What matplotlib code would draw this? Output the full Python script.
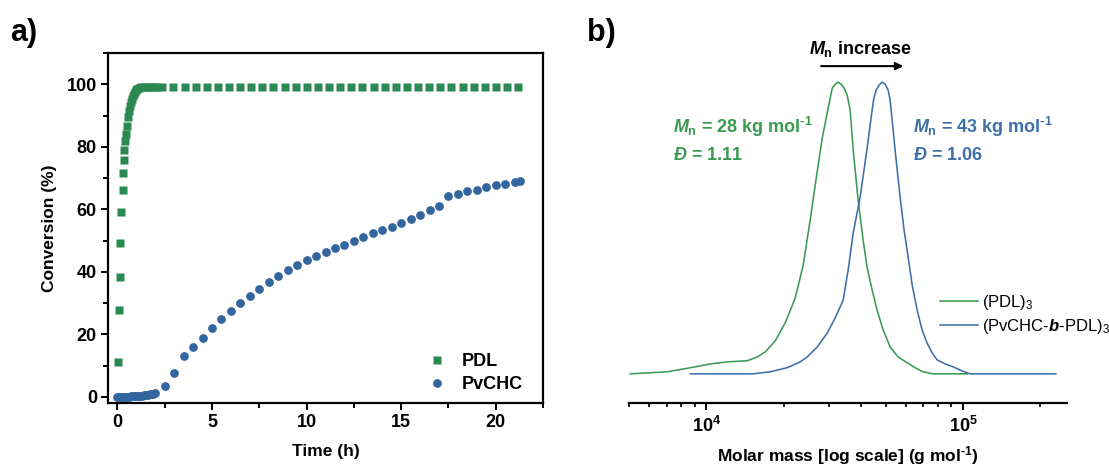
import numpy as np
import matplotlib
matplotlib.use("Agg")
import matplotlib.pyplot as plt
from matplotlib.ticker import MultipleLocator, LogLocator, NullFormatter

plt.rcParams['font.family'] = ['Liberation Sans', 'DejaVu Sans']
plt.rcParams['mathtext.fontset'] = 'custom'
plt.rcParams['mathtext.rm'] = 'Liberation Sans:bold'
plt.rcParams['mathtext.sf'] = 'Liberation Sans'
plt.rcParams['mathtext.it'] = 'Liberation Sans:italic:bold'
plt.rcParams['mathtext.bf'] = 'Liberation Sans:bold'

GREEN = '#2a8850'
BLUE = '#33659f'
GREEN_LINE = '#3a9a52'
BLUE_LINE = '#3d6fa8'

# conversion kinetics (h, %)
pdl_time = [0.02, 0.07, 0.11, 0.12, 0.20, 0.27, 0.28, 0.33, 0.37, 0.42, 0.46, 0.50,
            0.55, 0.60, 0.65, 0.70, 0.75, 0.80, 0.86, 0.92, 0.98, 1.05, 1.15, 1.25,
            1.38, 1.52, 1.66, 1.80, 1.95, 2.10,
            2.37, 2.96, 3.55, 4.13, 4.72, 5.31, 5.90, 6.49, 7.07, 7.66, 8.25, 8.84,
            9.43, 10.01, 10.60, 11.19, 11.78, 12.37, 12.95, 13.54, 14.13, 14.72,
            15.31, 15.89, 16.48, 17.07, 17.66, 18.25, 18.83, 19.42, 20.01, 20.60, 21.19]
pdl_conv = [11.0, 27.9, 38.4, 49.2, 59.0, 66.2, 71.6, 75.9, 79.1, 81.7, 84.0, 86.5,
            89.5, 91.5, 93.0, 94.3, 95.3, 96.2, 97.0, 97.6, 98.1, 98.5, 98.8, 99.0,
            99.0, 99.0, 99.0, 99.0, 99.0, 99.0,
            99.0, 99.0, 99.0, 99.0, 99.0, 99.0, 99.0, 99.0, 99.0, 99.0, 99.0, 99.0,
            99.0, 99.0, 99.0, 99.0, 99.0, 99.0, 99.0, 99.0, 99.0, 99.0,
            99.0, 99.0, 99.0, 99.0, 99.0, 99.0, 99.0, 99.0, 99.0, 99.0, 99.0]

pvchc_time = [0.0, 0.1, 0.2, 0.3, 0.4, 0.5, 0.6, 0.7, 0.8, 0.9, 1.0, 1.1, 1.2, 1.3,
              1.4, 1.5, 1.6, 1.7, 1.8, 1.9, 2.0,
              2.5, 3.0, 3.5, 4.0, 4.5, 5.0, 5.5, 6.0, 6.5, 7.0, 7.5, 8.0, 8.5, 9.0,
              9.5, 10.0, 10.5, 11.0, 11.5, 12.0, 12.5, 13.0, 13.5, 14.0, 14.5, 15.0,
              15.5, 16.0, 16.5, 17.0, 17.5, 18.0, 18.5, 19.0, 19.5, 20.0, 20.5, 21.0, 21.3]
pvchc_conv = [0.0, 0.0, 0.0, 0.0, 0.0, 0.0, 0.0, 0.1, 0.1, 0.1, 0.2, 0.2, 0.3, 0.4,
              0.5, 0.6, 0.7, 0.8, 0.9, 1.0, 1.2,
              3.3, 7.6, 12.9, 15.8, 18.9, 21.9, 24.8, 27.3, 29.9, 32.4, 34.6, 36.7, 38.6, 40.5,
              42.2, 43.8, 45.2, 46.4, 47.5, 48.7, 49.9, 51.0, 52.4, 53.5, 54.4, 55.6,
              56.9, 58.1, 59.7, 61.1, 64.1, 64.8, 65.8, 66.2, 67.1, 67.7, 68.0, 68.7, 69.1]

# SEC traces (g/mol, normalised RI signal)
pdl3_mass = [5060, 7050, 8670, 10370, 12070, 14450, 15790, 16970, 18560, 20300,
             22200, 23850, 25390, 26800, 28280, 29830, 30930, 31760, 32630, 33520,
             34440, 35390, 36340, 37350, 39020, 40810, 42280, 44230, 46250, 48830,
             52000, 55860, 60540, 65050, 69850, 76400, 103800]
pdl3_signal = [0.0, 0.007, 0.021, 0.034, 0.041, 0.045, 0.058, 0.075, 0.113, 0.175,
               0.260, 0.373, 0.527, 0.671, 0.808, 0.911, 0.979, 0.993, 1.0, 0.993,
               0.979, 0.955, 0.904, 0.767, 0.596, 0.459, 0.366, 0.288, 0.219, 0.151,
               0.092, 0.058, 0.038, 0.021, 0.007, 0.0, 0.0]

block_mass = [8670, 15240, 17740, 20650, 23220, 24720, 27040, 29580, 31780, 34140,
              35680, 37350, 39730, 42210, 43470, 44780, 45860, 47120, 48400, 49720,
              51080, 52000, 53190, 54370, 56860, 58930, 60540, 63360, 66240, 69230,
              72410, 75750, 79240, 85110, 91460, 99100, 106400, 230000]
block_signal = [0.0, 0.0, 0.007, 0.021, 0.041, 0.058, 0.092, 0.140, 0.192, 0.253,
                0.356, 0.483, 0.606, 0.767, 0.853, 0.938, 0.973, 0.990, 1.0, 0.993,
                0.973, 0.938, 0.853, 0.767, 0.606, 0.493, 0.425, 0.305, 0.219, 0.151,
                0.106, 0.072, 0.048, 0.034, 0.024, 0.010, 0.0, 0.0]

fig = plt.figure(figsize=(11.09, 4.66), dpi=100)
ax1 = fig.add_axes([108 / 1109, 63 / 466, 435 / 1109, 350 / 466])
ax2 = fig.add_axes([629 / 1109, 63 / 466, 438 / 1109, 350 / 466])

# a) conversion vs time
ax1.plot(pdl_time, pdl_conv, 's', color=GREEN, ms=5.2, mec='none', label='PDL')
ax1.plot(pvchc_time, pvchc_conv, 'o', color=BLUE, ms=6.3, mec='none', label='PvCHC')
ax1.set_xlim(-0.5, 22.5)
ax1.set_ylim(-2, 110)
ax1.xaxis.set_major_locator(MultipleLocator(5))
ax1.xaxis.set_minor_locator(MultipleLocator(2.5))
ax1.yaxis.set_major_locator(MultipleLocator(20))
ax1.yaxis.set_minor_locator(MultipleLocator(10))
ax1.tick_params(which='major', direction='out', length=5, width=1.4, labelsize=13, pad=3)
ax1.tick_params(which='minor', direction='out', length=3.5, width=1.4)
for lab in ax1.get_xticklabels() + ax1.get_yticklabels():
    lab.set_fontweight('bold')
for sp in ax1.spines.values():
    sp.set_linewidth(1.6)
ax1.set_xlabel('Time (h)', fontsize=12.5, fontweight='bold', labelpad=9)
ax1.set_ylabel('Conversion (%)', fontsize=12.5, fontweight='bold', labelpad=7)
ax1.legend(loc='upper left', bbox_to_anchor=(0.735, 0.143), frameon=False,
           prop={'size': 13, 'weight': 'bold'}, handlelength=1.0, handletextpad=0.9,
           labelspacing=0.35, borderpad=0, borderaxespad=0)

# b) SEC traces
ax2.plot(pdl3_mass, pdl3_signal, color=GREEN_LINE, lw=1.15, label=r'(PDL)$_\mathsf{3}$')
ax2.plot(block_mass, block_signal, color=BLUE_LINE, lw=1.15,
         label=r'(PvCHC-$b$-PDL)$_\mathsf{3}$')
ax2.set_xscale('log')
ax2.set_xlim(5000, 254000)
ax2.set_ylim(-0.1, 1.1)
ax2.set_yticks([])
for side in ['left', 'right', 'top']:
    ax2.spines[side].set_visible(False)
ax2.spines['bottom'].set_linewidth(1.6)
ax2.xaxis.set_minor_locator(LogLocator(base=10, subs=np.arange(2, 10), numticks=20))
ax2.xaxis.set_minor_formatter(NullFormatter())
ax2.set_xticks([1e4, 1e5])
ax2.set_xticklabels([r'$\mathbf{10^{4}}$', r'$\mathbf{10^{5}}$'])
ax2.tick_params(which='major', direction='out', length=5, width=1.4, labelsize=13, pad=4)
ax2.tick_params(which='minor', direction='out', length=3, width=1.2)
ax2.set_xlabel(r'Molar mass [log scale] (g mol$^{\text{-1}}$)', fontsize=12.5,
               fontweight='bold', labelpad=6)

ax2.text(39700, 1.115, r'$M_\mathrm{n}$ increase', ha='center', va='center',
         fontsize=13, fontweight='bold', color='black')
ax2.annotate('', xy=(58500, 1.055), xytext=(28000, 1.055),
             arrowprops=dict(arrowstyle='-|>', color='black', lw=1.5,
                             mutation_scale=11, shrinkA=0, shrinkB=0))

ax2.text(7450, 0.845, r'$M_\mathrm{n}$ = 28 kg mol$^{\text{-1}}$', ha='left', va='center',
         fontsize=13, fontweight='bold', color=GREEN_LINE)
ax2.text(7450, 0.75, r'$Đ$ = 1.11', ha='left', va='center',
         fontsize=13, fontweight='bold', color=GREEN_LINE)
ax2.text(63800, 0.845, r'$M_\mathrm{n}$ = 43 kg mol$^{\text{-1}}$', ha='left', va='center',
         fontsize=13, fontweight='bold', color=BLUE_LINE)
ax2.text(63800, 0.75, r'$Đ$ = 1.06', ha='left', va='center',
         fontsize=13, fontweight='bold', color=BLUE_LINE)

ax2.legend(loc='upper left', bbox_to_anchor=(0.71, 0.315), frameon=False,
           prop={'size': 12}, handlelength=2.3, handletextpad=0.25,
           labelspacing=0.3, borderpad=0, borderaxespad=0)

fig.text(10 / 1109, 1 - 33 / 466, 'a)', fontsize=22, fontweight='bold', va='center')
fig.text(587 / 1109, 1 - 33 / 466, 'b)', fontsize=22, fontweight='bold', va='center')

fig.savefig('out.png', dpi=100)
